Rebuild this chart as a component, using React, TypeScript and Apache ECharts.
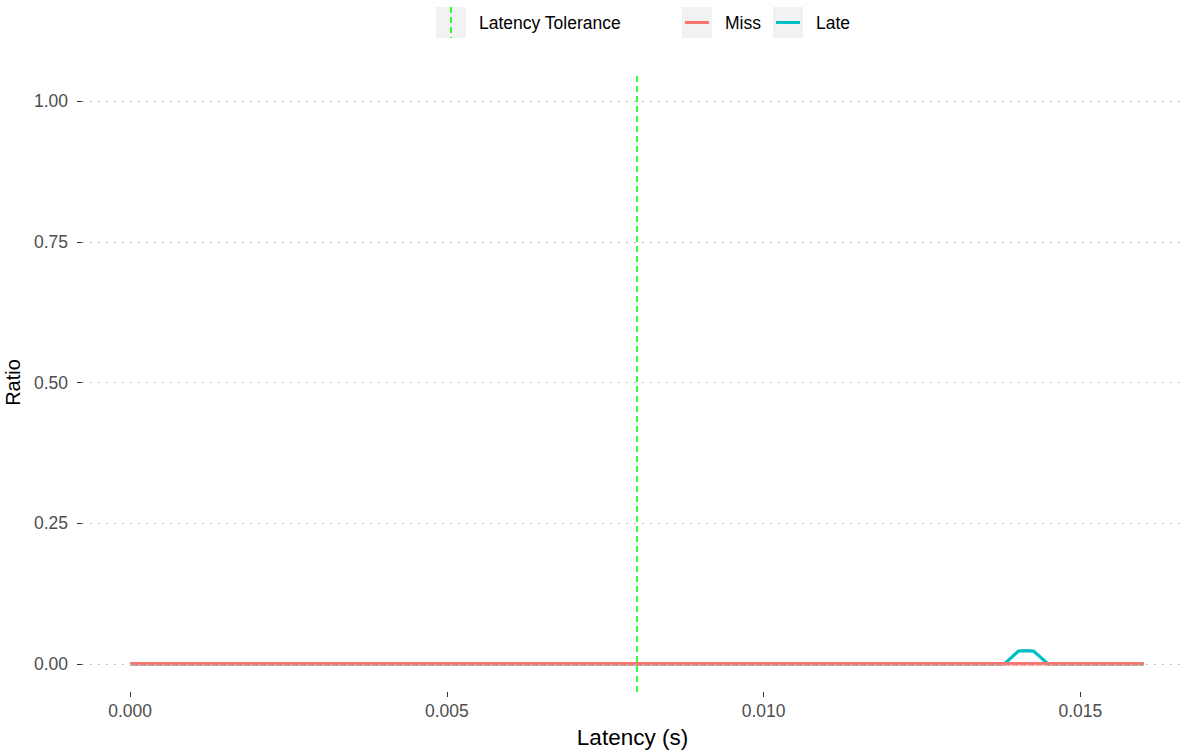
import React, { useEffect, useRef } from "react";
import * as echarts from "echarts";

// Latency sweep (seconds) and the ratios of missed / late frames
const missLatency = [0, 0.016];
const missRatio = [0, 0];
const lateLatency = [0, 0.0138, 0.01402, 0.01413, 0.01426, 0.01449, 0.016];
const lateRatio = [0, 0, 0.0225, 0.0235, 0.0228, 0, 0];
const toleranceLatency = 0.008;

const xTicks = [0, 0.005, 0.01, 0.015];
const yTicks = [0, 0.25, 0.5, 0.75, 1];
const yMin = -0.05;
const yMax = 1.05;

const MISS_COLOR = "#F8766D";
const LATE_COLOR = "#00BFC4";
const TOL_COLOR = "#00FF00";
const FONT = "Liberation Sans, Arial, sans-serif";

export default function App() {
  const ref = useRef<HTMLDivElement>(null);

  useEffect(() => {
    if (!ref.current) return;
    const chart = echarts.init(ref.current, undefined, { renderer: "svg" });

    const legendKey = (x: number) => ({
      type: "rect",
      shape: { x, y: 7, width: 30, height: 31 },
      style: { fill: "#F2F2F2" },
    });
    const legendText = (x: number, text: string) => ({
      type: "text",
      x,
      y: 23,
      style: {
        text,
        fill: "#000",
        fontSize: 17.5,
        fontFamily: FONT,
        verticalAlign: "middle",
      },
    });

    chart.setOption({
      animation: false,
      backgroundColor: "#FFFFFF",
      grid: {
        left: 82,
        right: 6,
        top: 73,
        bottom: 61,
        containLabel: false,
        outerBoundsMode: "none",
      },
      xAxis: {
        type: "value",
        min: -0.00076,
        max: 0.01662,
        name: "Latency (s)",
        nameLocation: "middle",
        nameGap: 34,
        nameTextStyle: { color: "#000", fontSize: 22.5, fontFamily: FONT },
        axisLine: { show: false, onZero: false },
        axisTick: {
          show: true,
          length: 5,
          customValues: xTicks,
          lineStyle: { color: "#333333", width: 1 },
        },
        axisLabel: {
          customValues: xTicks,
          color: "#4D4D4D",
          fontSize: 17.5,
          fontFamily: FONT,
          margin: 10,
          formatter: (v: number) => v.toFixed(3),
        },
        splitLine: { show: false },
      },
      yAxis: {
        type: "value",
        min: yMin,
        max: yMax,
        name: "Ratio",
        nameLocation: "middle",
        nameGap: 57,
        nameRotate: 90,
        nameTextStyle: { color: "#000", fontSize: 20, fontFamily: FONT },
        axisLine: { show: false, onZero: false },
        axisTick: {
          show: true,
          length: 5,
          customValues: yTicks,
          lineStyle: { color: "#333333", width: 1 },
        },
        axisLabel: {
          customValues: yTicks,
          color: "#4D4D4D",
          fontSize: 17.5,
          fontFamily: FONT,
          margin: 14,
          formatter: (v: number) => v.toFixed(2),
        },
        splitLine: { show: false },
      },
      series: [
        {
          name: "Latency Tolerance",
          type: "line",
          data: [
            [toleranceLatency, yMin],
            [toleranceLatency, yMax],
          ],
          showSymbol: false,
          lineStyle: { color: TOL_COLOR, type: [6, 4], width: 1.6 },
          z: 2,
          markLine: {
            silent: true,
            symbol: "none",
            label: { show: false },
            lineStyle: { color: "#BDBDBD", type: [2, 6], width: 1.2 },
            data: yTicks.map((y) => ({ yAxis: y })),
          },
        },
        {
          name: "Late",
          type: "line",
          data: lateLatency.map((x, i) => [x, lateRatio[i]]),
          showSymbol: false,
          lineStyle: { color: LATE_COLOR, width: 3.2 },
          z: 3,
        },
        {
          name: "Miss",
          type: "line",
          data: missLatency.map((x, i) => [x, missRatio[i]]),
          showSymbol: false,
          lineStyle: { color: MISS_COLOR, width: 3.5 },
          z: 4,
        },
      ],
      graphic: [
        legendKey(436),
        {
          type: "line",
          shape: { x1: 451, y1: 7, x2: 451, y2: 38 },
          style: { stroke: TOL_COLOR, lineWidth: 1.6, lineDash: [6, 4] },
        },
        legendText(479, "Latency Tolerance"),
        legendKey(682),
        {
          type: "line",
          shape: { x1: 685, y1: 22.5, x2: 709, y2: 22.5 },
          style: { stroke: MISS_COLOR, lineWidth: 3 },
        },
        legendText(725, "Miss"),
        legendKey(773),
        {
          type: "line",
          shape: { x1: 776, y1: 22.5, x2: 800, y2: 22.5 },
          style: { stroke: LATE_COLOR, lineWidth: 3 },
        },
        legendText(816, "Late"),
      ],
    });

    return () => chart.dispose();
  }, []);

  return (
    <div
      ref={ref}
      style={{ position: "fixed", left: 0, top: 0, width: 1189, height: 753 }}
    />
  );
}
